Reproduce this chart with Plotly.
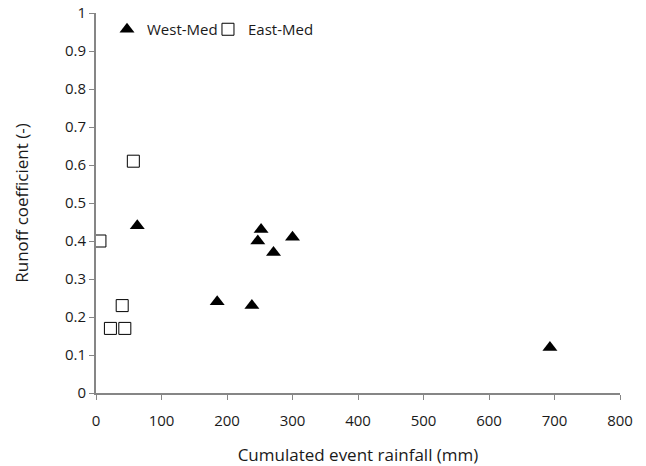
import plotly.graph_objects as go

west_x = [63, 185, 238, 247, 252, 271, 300, 693]
west_y = [0.44, 0.24, 0.23, 0.40, 0.43, 0.37, 0.41, 0.12]
east_x = [6, 57, 40, 22, 44]
east_y = [0.40, 0.61, 0.23, 0.17, 0.17]

font_family = "Open Sans, Noto Sans, Liberation Sans, sans-serif"
text_color = "#1a1a1a"

fig = go.Figure()
fig.add_trace(go.Scatter(x=west_x, y=west_y, mode="markers", name="West-Med",
                         legend="legend",
                         marker=dict(symbol="triangle-up", size=13, color="black",
                                     line=dict(width=0))))
fig.add_trace(go.Scatter(x=east_x, y=east_y, mode="markers", name="East-Med",
                         legend="legend2",
                         marker=dict(symbol="square-open", size=12, color="black",
                                     line=dict(width=1))))

axis_common = dict(showgrid=False, zeroline=False, showline=True, linecolor="#868686",
                   linewidth=2, ticks="outside", tickcolor="#868686", ticklen=5,
                   automargin=False,
                   tickfont=dict(size=15, color=text_color, family=font_family))

legend_common = dict(orientation="h", y=1.0, xanchor="left", yanchor="top",
                     font=dict(size=15, color=text_color), itemwidth=30,
                     bgcolor="rgba(0,0,0,0)")

fig.update_layout(
    width=646, height=466,
    margin=dict(l=96, r=26, t=13, b=73),
    plot_bgcolor="white", paper_bgcolor="white",
    font=dict(family=font_family, color=text_color),
    xaxis=dict(range=[0, 800], dtick=100, tick0=0, ticklabelstandoff=8,
               title=dict(text="Cumulated event rainfall (mm)", font=dict(size=17), standoff=29),
               **axis_common),
    yaxis=dict(range=[0, 1], dtick=0.1, tick0=0,
               title=dict(text="Runoff coefficient (-)", font=dict(size=17), standoff=32),
               **axis_common),
    legend=dict(x=0.021, **legend_common),
    legend2=dict(x=0.2137, **legend_common),
    showlegend=True,
)

fig.write_html("out.html", config={"displayModeBar": False},
               post_script="document.body.style.margin='0';")
